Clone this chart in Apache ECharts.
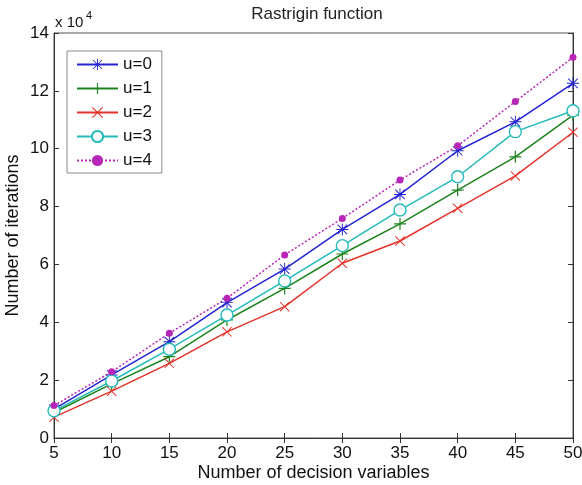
<!DOCTYPE html>
<html>
<head>
<meta charset="utf-8">
<script src="https://cdn.jsdelivr.net/npm/echarts@6/dist/echarts.min.js"></script>
<style>
    html, body { margin: 0; padding: 0; background: #fff; }
    #chart { width: 582px; height: 485px; }
</style>
</head>
<body>
<div id="chart"></div>
<script>
// number of decision variables
const variables = [5, 10, 15, 20, 25, 30, 35, 40, 45, 50];
// iterations per u value
const u0 = [10000, 21800, 33300, 46800, 58400, 72100, 84200, 99300, 109300, 122600];
const u1 = [8800, 18700, 28100, 40800, 51700, 63600, 74000, 85700, 97200, 111600];
const u2 = [7200, 16200, 25800, 36700, 45400, 60400, 68100, 79400, 90600, 105700];
const u3 = [9400, 19700, 30700, 42500, 54300, 66500, 78800, 90300, 105900, 113100];
const u4 = [11200, 22900, 36200, 48300, 63300, 75900, 89200, 101000, 116300, 131600];
const yTicks = [0, 2, 4, 6, 8, 10, 12, 14];

const font = 'Liberation Sans, Arial, sans-serif';

// stroke-like markers built from thin bars
const plusPath = 'path://M9,0L11,0L11,20L9,20ZM0,9L20,9L20,11L0,11Z';
const crossPath = 'path://M1.4,0L20,18.6L18.6,20L0,1.4ZM18.6,0L20,1.4L1.4,20L0,18.6Z';
const starPath = 'path://M9.2,0L10.8,0L10.8,20L9.2,20ZM0,9.2L20,9.2L20,10.8L0,10.8Z' +
    'M2.6,1.5L18.5,17.4L17.4,18.5L1.5,2.6ZM17.4,1.5L18.5,2.6L2.6,18.5L1.5,17.4Z';

function pairs(vals) {
    return vals.map((v, i) => [variables[i], v]);
}

function makeSeries(name, vals, color, symbol, size, lineType, filled) {
    return {
        name,
        type: 'line',
        data: pairs(vals),
        symbol,
        symbolSize: size,
        showAllSymbol: true,
        lineStyle: { color, width: 1.5, type: lineType },
        itemStyle: {
            color: filled ? color : '#fff',
            borderColor: color,
            borderWidth: filled ? 0 : 1.4,
        },
        emphasis: { disabled: true },
        animation: false,
    };
}

const chart = echarts.init(document.getElementById('chart'), null, { renderer: 'canvas' });

const axisLineStyle = { color: '#333', width: 1 };
const tickStyle = { inside: true, length: 5, lineStyle: axisLineStyle };

chart.setOption({
    backgroundColor: '#fff',
    textStyle: { fontFamily: font },
    title: {
        text: 'Rastrigin function',
        left: 312,
        top: 1,
        textAlign: 'center',
        textStyle: { fontFamily: font, fontSize: 17, fontWeight: 'normal', color: '#222' },
    },
    grid: {
        left: 54,
        right: 9,
        top: 33,
        bottom: 47,
        outerBoundsMode: 'none',
        containLabel: false,
        show: true,
        borderColor: '#555',
        borderWidth: 1,
    },
    legend: {
        orient: 'vertical',
        left: 67,
        top: 51,
        padding: [5, 10, 4, 9],
        itemGap: 7,
        itemWidth: 41,
        itemHeight: 14,
        borderColor: '#888',
        borderWidth: 1,
        backgroundColor: '#fff',
        textStyle: { fontFamily: font, fontSize: 17, color: '#111' },
        data: ['u=0', 'u=1', 'u=2', 'u=3', 'u=4'],
    },
    xAxis: [{
        type: 'value',
        min: 5,
        max: 50,
        interval: 5,
        name: 'Number of decision variables',
        nameLocation: 'middle',
        nameGap: 26,
        nameMoveOverlap: false,
        nameTextStyle: { fontFamily: font, fontSize: 18, color: '#111' },
        axisLine: { lineStyle: axisLineStyle },
        axisTick: tickStyle,
        axisLabel: { fontFamily: font, fontSize: 17, color: '#111', margin: 7 },
        splitLine: { show: false },
    }, {
        type: 'value',
        position: 'top',
        min: 5,
        max: 50,
        interval: 5,
        axisLine: { lineStyle: axisLineStyle },
        axisTick: tickStyle,
        axisLabel: { show: false },
        splitLine: { show: false },
    }],
    yAxis: [{
        type: 'value',
        min: 0,
        max: 140000,
        interval: 20000,
        name: 'Number of iterations',
        nameLocation: 'middle',
        nameGap: 32,
        nameMoveOverlap: false,
        nameTextStyle: { fontFamily: font, fontSize: 18, color: '#111' },
        axisLine: { show: true, lineStyle: axisLineStyle },
        axisTick: Object.assign({ show: true }, tickStyle),
        axisLabel: {
            fontFamily: font, fontSize: 17, color: '#111', margin: 5,
            formatter: v => String(yTicks[Math.round(v / 20000)]),
        },
        splitLine: { show: false },
    }, {
        type: 'value',
        position: 'right',
        min: 0,
        max: 140000,
        interval: 20000,
        axisLine: { show: true, lineStyle: axisLineStyle },
        axisTick: Object.assign({ show: true }, tickStyle),
        axisLabel: { show: false },
        splitLine: { show: false },
    }],
    graphic: [{
        type: 'text',
        left: 55,
        top: 15,
        style: { text: 'x 10', fontFamily: font, fontSize: 15, fill: '#111' },
    }, {
        type: 'text',
        left: 86,
        top: 10,
        style: { text: '4', fontFamily: font, fontSize: 11, fill: '#111' },
    }],
    series: [
        makeSeries('u=0', u0, '#2323d2', starPath, 12, 'solid', true),
        makeSeries('u=1', u1, '#1c831c', plusPath, 12, 'solid', true),
        makeSeries('u=2', u2, '#e4332b', crossPath, 10, 'solid', true),
        makeSeries('u=3', u3, '#25baba', 'circle', 12, 'solid', false),
        makeSeries('u=4', u4, '#b826b8', 'circle', 7, [2, 2], true),
    ],
});
</script>
</body>
</html>
